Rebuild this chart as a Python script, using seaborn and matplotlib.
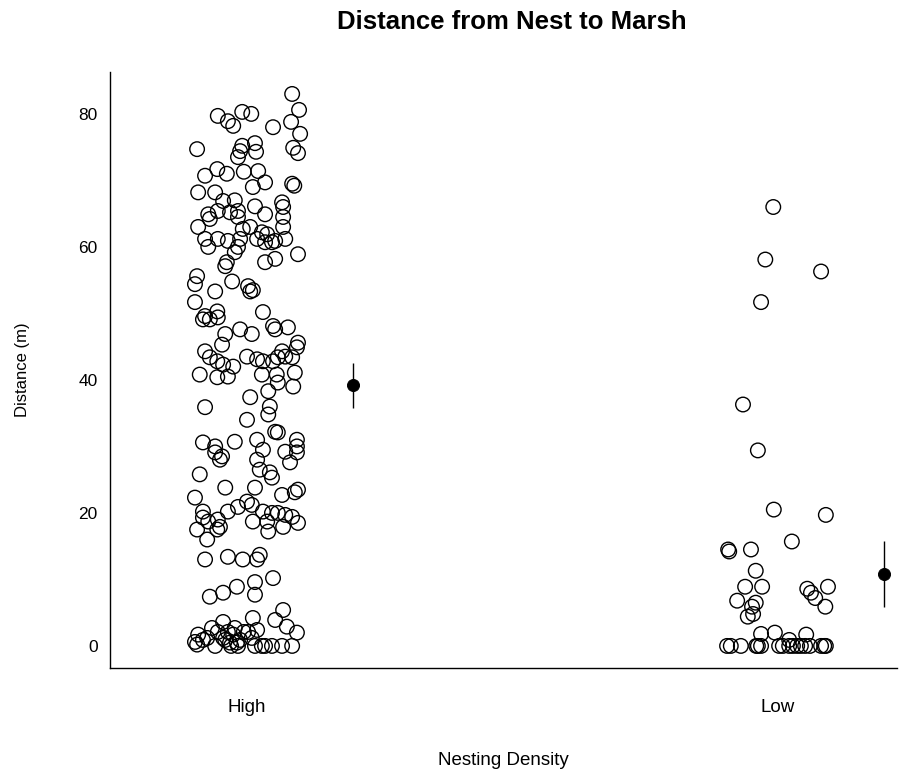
import numpy as np
import pandas as pd
import matplotlib
matplotlib.use("Agg")
import matplotlib.pyplot as plt
import seaborn as sns

categories = ["High", "Low"]

# High density nests: (jitter offset, distance m)
high_offset = [
    0.085, 0.098, -0.055, -0.009, 0.008, -0.036, -0.026, 0.049, 0.083, 0.100,
    -0.094, -0.009, 0.015, -0.013, 0.017, -0.017, 0.087, 0.096, -0.056, -0.079,
    -0.038, -0.006, 0.021, 0.034, 0.085, 0.089, 0.011, -0.092, -0.060, -0.045,
    -0.023, 0.015, 0.034, 0.066, 0.068, -0.073, -0.070, -0.055, -0.032, -0.017,
    -0.017, -0.092, -0.008, 0.006, 0.028, 0.038, 0.053, 0.068, 0.068, -0.079,
    -0.073, -0.055, -0.036, -0.013, -0.017, -0.023, 0.019, 0.034, 0.047, 0.072,
    0.096, 0.034, 0.053, -0.038, -0.041, -0.094, -0.098, -0.060, -0.028, 0.002,
    0.011, 0.006, -0.098, -0.079, -0.083, -0.056, -0.055, -0.070, 0.030, 0.049,
    0.053, 0.077, -0.013, 0.009, -0.041, -0.047, 0.096, 0.094, 0.066, 0.058,
    0.072, -0.079, -0.070, -0.056, -0.045, 0.000, 0.019, 0.030, 0.049, 0.085,
    -0.089, -0.026, -0.056, -0.036, 0.028, 0.056, 0.090, 0.058, 0.087, 0.040,
    0.006, -0.079, 0.043, 0.040, 0.000, 0.053, 0.058, -0.083, -0.060, -0.023,
    0.019, 0.030, -0.060, -0.047, -0.051, 0.094, 0.094, 0.094, 0.072, 0.019,
    0.081, 0.024, 0.043, 0.047, -0.089, -0.041, 0.015, 0.066, 0.090, 0.096,
    -0.098, 0.000, 0.009, -0.017, -0.036, -0.083, -0.083, -0.073, -0.055, -0.051,
    0.030, 0.047, 0.058, 0.072, 0.085, 0.096, 0.038, 0.011, 0.040, 0.068,
    -0.094, -0.075, -0.056, -0.036, 0.024, -0.079, -0.008, 0.019, -0.070, -0.045,
    -0.019, 0.015, 0.015, 0.049, 0.068, 0.053, 0.075, 0.094, 0.011, -0.045,
    -0.066, -0.092, -0.098, -0.094, -0.055, -0.036, -0.026, -0.041, -0.032, -0.019,
    0.002, 0.019, 0.009, -0.060, 0.015, 0.028, 0.034, 0.047, 0.066, 0.085,
    -0.045, -0.075, -0.083, -0.013, -0.006, -0.023, -0.017, -0.030,
]
high_distance = [
    83.0, 80.6, 79.7, 80.3, 80.0, 78.9, 78.2, 78.0, 78.8, 77.0,
    74.7, 75.2, 75.6, 74.4, 74.3, 73.5, 74.9, 74.1, 71.7, 70.7,
    71.0, 71.3, 71.4, 69.7, 69.5, 69.2, 69.0, 68.2, 68.2, 66.9,
    67.0, 66.1, 64.9, 66.7, 66.0, 64.9, 64.2, 65.4, 65.2, 65.4,
    64.5, 63.0, 62.7, 63.0, 62.2, 61.9, 60.9, 63.0, 64.5, 61.2,
    60.0, 61.2, 60.9, 61.2, 60.0, 59.2, 61.2, 60.7, 60.7, 61.2,
    58.9, 57.7, 58.2, 57.7, 57.1, 55.6, 54.4, 53.3, 54.8, 54.1,
    53.5, 53.3, 51.7, 49.6, 49.1, 50.3, 49.4, 49.1, 50.2, 48.1,
    47.6, 47.9, 47.6, 46.9, 46.9, 45.3, 45.6, 44.9, 44.3, 43.4,
    43.5, 44.3, 43.4, 42.8, 42.3, 43.5, 43.1, 42.8, 42.8, 43.4,
    40.8, 42.0, 40.4, 40.5, 40.8, 40.8, 41.1, 39.6, 39.0, 38.3,
    37.4, 35.9, 36.0, 34.8, 34.0, 32.2, 32.1, 30.6, 30.0, 30.7,
    31.0, 29.5, 29.1, 28.5, 28.0, 31.0, 30.0, 29.1, 29.2, 28.0,
    27.6, 26.5, 26.1, 25.3, 25.8, 23.8, 23.8, 22.7, 23.1, 23.5,
    22.3, 21.7, 21.2, 20.9, 20.2, 20.2, 19.3, 18.7, 19.0, 17.9,
    20.2, 20.0, 20.0, 19.7, 19.4, 18.5, 18.7, 18.7, 17.2, 17.9,
    17.5, 16.0, 17.5, 13.4, 13.7, 13.0, 13.0, 13.0, 7.4, 8.0,
    8.9, 9.6, 7.7, 10.2, 5.4, 3.9, 2.9, 2.0, 4.2, 3.6,
    2.7, 1.7, 0.6, 0.2, 2.1, 2.1, 1.7, 0.9, 0.5, 0.5,
    2.1, 2.4, 1.2, 0.0, 0.0, 0.0, 0.0, 0.0, 0.0, 0.0,
    1.2, 1.2, 0.9, 0.9, 2.1, 2.7, 0.0, 0.0,
]

# Low density nests
low_offset = [
    -0.009, -0.024, 0.081, -0.032, -0.066, -0.038, -0.008, 0.090, 0.026, -0.094,
    -0.092, -0.051, -0.042, -0.062, -0.030, 0.055, 0.062, 0.070, 0.094, 0.089,
    -0.077, -0.049, -0.042, -0.057, -0.047, -0.032, -0.006, 0.053, 0.021,
    -0.096, -0.089, -0.070, -0.041, -0.038, -0.032, 0.002, 0.009, 0.021, 0.028,
    0.036, 0.043, 0.051, 0.060, 0.081, 0.087, 0.090,
]
low_distance = [
    66.0, 58.1, 56.3, 51.7, 36.3, 29.4, 20.5, 19.7, 15.7, 14.5,
    14.2, 14.5, 11.3, 8.9, 8.9, 8.6, 8.0, 7.2, 8.9, 5.9,
    6.8, 5.9, 6.5, 4.4, 4.8, 1.8, 2.0, 1.7, 0.9,
    0.0, 0.0, 0.0, 0.0, 0.0, 0.0, 0.0, 0.0, 0.0, 0.0,
    0.0, 0.0, 0.0, 0.0, 0.0, 0.0, 0.0,
]

# Group means with error bars
mean_values = [39.2, 10.8]
mean_lower = [35.8, 5.9]
mean_upper = [42.6, 15.8]
mean_offset = 0.2

df = pd.DataFrame({
    "x": [0 + o for o in high_offset] + [1 + o for o in low_offset],
    "Distance": high_distance + low_distance,
})
means = pd.DataFrame({
    "x": [i + mean_offset for i in range(len(categories))],
    "mean": mean_values, "lo": mean_lower, "hi": mean_upper,
})

sns.set_style("white")
plt.rcParams["font.family"] = ["Liberation Sans", "DejaVu Sans"]
plt.rcParams["text.color"] = "black"
plt.rcParams["axes.labelcolor"] = "black"
plt.rcParams["xtick.color"] = "black"
plt.rcParams["ytick.color"] = "black"

fig = plt.figure(figsize=(9.05, 7.78), dpi=100)
ax = fig.add_axes([110 / 905, 1 - 668 / 778, (897 - 110) / 905, (668 - 72) / 778])

sns.scatterplot(data=df, x="x", y="Distance", ax=ax, s=110, marker="o",
                facecolor="none", edgecolor="black", linewidth=1.0, legend=False)
ax.vlines(means["x"], means["lo"], means["hi"], color="black", linewidth=1.0)
sns.scatterplot(data=means, x="x", y="mean", ax=ax, s=75, color="black",
                edgecolor="black", legend=False)

ax.set_xlim(-0.258, 1.224)
ax.set_ylim(-3.32, 86.3)
ax.set_xticks(range(len(categories)))
ax.set_xticklabels(categories)
ax.set_yticks([0, 20, 40, 60, 80])
ax.tick_params(axis="x", length=0, pad=22, labelsize=13.5)
ax.tick_params(axis="y", length=0, pad=9, labelsize=12.5)
for s in ["top", "right"]:
    ax.spines[s].set_visible(False)
for s in ["left", "bottom"]:
    ax.spines[s].set_color("black")
    ax.spines[s].set_linewidth(1.0)

ax.set_xlabel("Nesting Density", fontsize=13.5, labelpad=26)
ax.set_ylabel("Distance (m)", fontsize=12)
ax.yaxis.set_label_coords(-(110 - 30) / (897 - 110), 0.5)
fig.suptitle("Distance from Nest to Marsh", fontsize=18.5, fontweight="bold",
             x=512 / 905, y=1 - 22 / 778, va="center")

fig.savefig("out.png", dpi=100)
